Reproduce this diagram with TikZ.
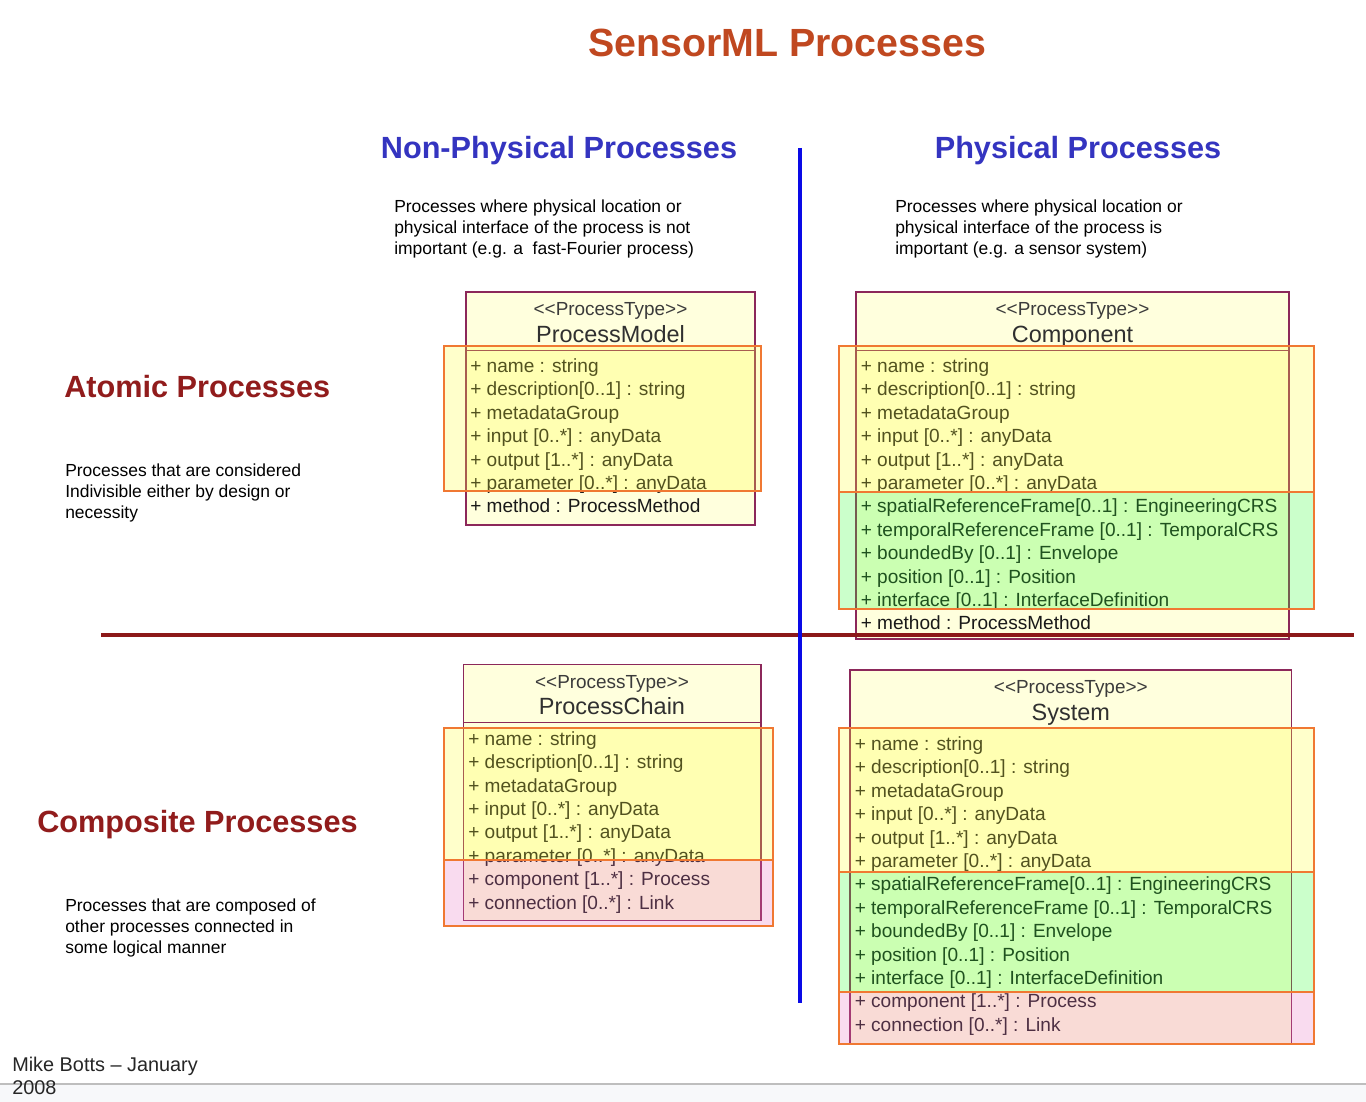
\documentclass[tikz,border=0pt]{standalone}
\usepackage{fontspec}
\setmainfont{Liberation Sans}
\definecolor{titlec}{RGB}{192,72,32}
\definecolor{headb}{RGB}{52,52,192}
\definecolor{headr}{RGB}{145,28,28}
\definecolor{vlinec}{RGB}{10,10,230}
\definecolor{hlinec}{RGB}{140,25,25}
\definecolor{boxb}{RGB}{140,40,90}
\definecolor{boxf}{RGB}{255,255,221}
\definecolor{orng}{RGB}{240,120,50}
\definecolor{ovy}{RGB}{255,255,51}
\definecolor{ovg}{RGB}{51,255,51}
\definecolor{ovp}{RGB}{235,115,195}
\definecolor{txt}{RGB}{25,25,25}
\definecolor{footbg}{RGB}{247,248,250}
\definecolor{footln}{RGB}{190,190,190}
\newcommand{\ptype}{<\kern0pt<ProcessType>\kern0pt>}
\tikzset{
  umlbox/.style={draw=boxb, fill=boxf, line width=1.1pt},
  divider/.style={draw=boxb, line width=1.1pt},
  ovyel/.style={fill=ovy, fill opacity=0.25},
  ovgrn/.style={fill=ovg, fill opacity=0.25},
  ovpnk/.style={fill=ovp, fill opacity=0.25},
  ovline/.style={draw=orng, line width=1.5pt},
  stereo/.style={font=\fontsize{14.2}{16}\selectfont, text=txt!85, inner sep=0, anchor=base},
  cname/.style={font=\fontsize{17.6}{20}\selectfont, text=txt!90, inner sep=0, anchor=base},
  attr/.style={font=\fontsize{14.3}{17.55}\selectfont, text=txt, inner sep=0, anchor=base west},
  desc/.style={font=\fontsize{13.1}{16.1}\selectfont, text=black, inner sep=0, anchor=base west},
  bighead/.style={font=\fontsize{23}{27}\selectfont\bfseries, inner sep=0},
}
\begin{document}
\begin{tikzpicture}[x=0.75pt, y=-0.75pt]
\useasboundingbox (0,0) rectangle (1366,1102);
\fill[white] (0,0) rectangle (1366,1102);

% footer band
\fill[footbg] (0,1084) rectangle (1366,1102);
\draw[footln, line width=0.8pt] (0,1084) -- (1366,1084);

% titles
\node[font=\fontsize{29.5}{34}\selectfont\bfseries, text=titlec, inner sep=0, anchor=base] (title) at (787,57) {SensorML Processes};
\node[bighead, text=headb, anchor=base] (hnp) at (559,159) {Non-Physical Processes};
\node[bighead, text=headb, anchor=base] (hp) at (1078,159) {Physical Processes};
\node[bighead, text=headr, anchor=base west] (hat) at (64,397) {Atomic Processes};
\node[bighead, text=headr, anchor=base west] (hco) at (37,832) {Composite Processes};

% descriptions
\node[desc] (dnp) at (394,212) {\begin{tabular}[t]{@{}l@{}}Processes where physical location or\\ physical interface of the process is not\\ important (e.g. a\ \ fast-Fourier process)\end{tabular}};
\node[desc] (dp) at (895,212) {\begin{tabular}[t]{@{}l@{}}Processes where physical location or\\ physical interface of the process is\\ important (e.g. a sensor system)\end{tabular}};
\node[desc] (dat) at (65,476) {\begin{tabular}[t]{@{}l@{}}Processes that are considered\\ Indivisible either by design or\\ necessity\end{tabular}};
\node[desc] (dco) at (65,911) {\begin{tabular}[t]{@{}l@{}}Processes that are composed of\\ other processes connected in\\ some logical manner\end{tabular}};

% ---------------- ProcessModel ----------------
\draw[umlbox] (466,292) rectangle (755,525);
\draw[divider] (466,350.7) -- (755,350.7);
\node[stereo] (pms) at (610.5,315.5) {\ptype};
\node[cname] (pmn) at (610.5,342.5) {ProcessModel};
\node[attr] (pma) at (470,372.5) {\begin{tabular}[t]{@{}l@{}}+ name : string\\ + description[0..1] : string\\ + metadataGroup\\ + input [0..*] : anyData\\ + output [1..*] : anyData\\ + parameter [0..*] : anyData\\ + method : ProcessMethod\end{tabular}};
\fill[ovyel] (444,346) rectangle (761,491);
\draw[ovline] (444,346) rectangle (761,491);

% ---------------- Component ----------------
\draw[umlbox] (856,292) rectangle (1289,639);
\draw[divider] (856,350.7) -- (1289,350.7);
\node[stereo] (cos) at (1072.5,315.5) {\ptype};
\node[cname] (con) at (1072.5,342.5) {Component};
\node[attr] (coa) at (860.5,372.5) {\begin{tabular}[t]{@{}l@{}}+ name : string\\ + description[0..1] : string\\ + metadataGroup\\ + input [0..*] : anyData\\ + output [1..*] : anyData\\ + parameter [0..*] : anyData\\ + spatialReferenceFrame[0..1] : EngineeringCRS\\ + temporalReferenceFrame [0..1] : TemporalCRS\\ + boundedBy [0..1] : Envelope\\ + position [0..1] : Position\\ + interface [0..1] : InterfaceDefinition\\ + method : ProcessMethod\end{tabular}};
\fill[ovyel] (839,346) rectangle (1314,491.5);
\fill[ovgrn] (839,491.5) rectangle (1314,609);
\draw[ovline] (839,346) rectangle (1314,609);
\draw[ovline] (839,491.5) -- (1314,491.5);

% ---------------- ProcessChain ----------------
\draw[umlbox] (463.3,664.5) rectangle (761,920.5);
\draw[divider] (463.3,722.7) -- (761,722.7);
\node[stereo] (pcs) at (612,688) {\ptype};
\node[cname] (pcn) at (612,714.5) {ProcessChain};
\node[attr] (pca) at (468,745.3) {\begin{tabular}[t]{@{}l@{}}+ name : string\\ + description[0..1] : string\\ + metadataGroup\\ + input [0..*] : anyData\\ + output [1..*] : anyData\\ + parameter [0..*] : anyData\\ + component [1..*] : Process\\ + connection [0..*] : Link\end{tabular}};
\fill[ovyel] (444,727.7) rectangle (773.3,860);
\fill[ovpnk] (444,860) rectangle (773.3,925.7);
\draw[ovline] (444,727.7) rectangle (773.3,925.7);
\draw[ovline] (444,860) -- (773.3,860);

% ---------------- System ----------------
\draw[umlbox] (850,670) rectangle (1291.7,1043.5);
\draw[divider] (850,728) -- (1291.7,728);
\node[stereo] (sys) at (1070.8,693.2) {\ptype};
\node[cname] (syn) at (1070.8,720) {System};
\node[attr] (sya) at (854.5,750.5) {\begin{tabular}[t]{@{}l@{}}+ name : string\\ + description[0..1] : string\\ + metadataGroup\\ + input [0..*] : anyData\\ + output [1..*] : anyData\\ + parameter [0..*] : anyData\\ + spatialReferenceFrame[0..1] : EngineeringCRS\\ + temporalReferenceFrame [0..1] : TemporalCRS\\ + boundedBy [0..1] : Envelope\\ + position [0..1] : Position\\ + interface [0..1] : InterfaceDefinition\\ + component [1..*] : Process\\ + connection [0..*] : Link\end{tabular}};
\fill[ovyel] (839,727.7) rectangle (1314.3,872.3);
\fill[ovgrn] (839,872.3) rectangle (1314.3,991.7);
\fill[ovpnk] (839,991.7) rectangle (1314.3,1044.3);
\draw[ovline] (839,727.7) rectangle (1314.3,1044.3);
\draw[ovline] (839,872.3) -- (1314.3,872.3);
\draw[ovline] (839,991.7) -- (1314.3,991.7);

% dividing lines
\coordinate (hl) at (101,635);
\coordinate (hr) at (1354,635);
\coordinate (vt) at (800,148);
\coordinate (vb) at (800,1003);
\draw[hlinec, line width=3pt] (hl) -- (hr);
\draw[vlinec, line width=3pt] (vt) -- (vb);

% footer text
\node[font=\fontsize{14.9}{17.25}\selectfont, text=black!85, inner sep=0, anchor=base west] (foot) at (12,1071) {\begin{tabular}[t]{@{}l@{}}Mike Botts -- January\\ 2008\end{tabular}};
\end{tikzpicture}
\end{document}
